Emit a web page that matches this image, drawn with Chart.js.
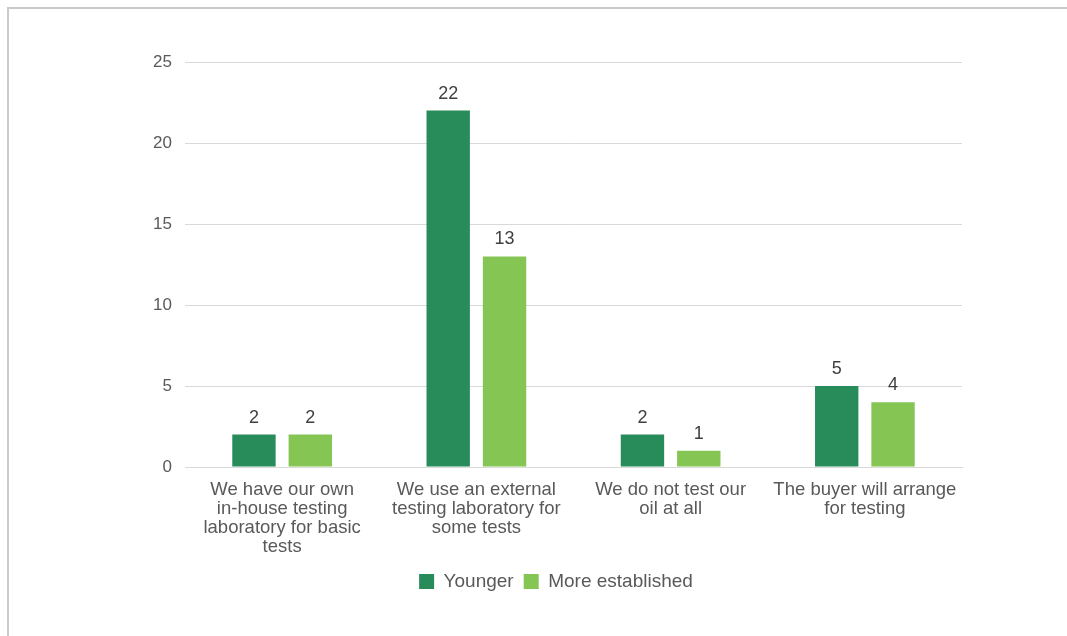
<!DOCTYPE html>
<html>
<head>
<meta charset="utf-8">
<script src="https://cdn.jsdelivr.net/npm/chart.js@4.4.0/dist/chart.umd.min.js"></script>
<style>
  html, body { margin: 0; padding: 0; background: #fff; }
  #wrap { position: relative; width: 1067px; height: 636px; }
  #frame { position: absolute; left: 7px; top: 7px; right: -10px; bottom: -10px;
           border-left: 2px solid #cacace; border-top: 2px solid #cacace; }
  canvas { position: absolute; left: 0; top: 0; }
</style>
</head>
<body>
<div id="wrap">
  <div id="frame"></div>
  <canvas id="barChart" width="1067" height="636"></canvas>
</div>
<script>
const categories = [
    ['We have our own', 'in-house testing', 'laboratory for basic', 'tests'],
    ['We use an external', 'testing laboratory for', 'some tests'],
    ['We do not test our', 'oil at all'],
    ['The buyer will arrange', 'for testing']
];
const younger = [2, 22, 2, 5];
const established = [2, 13, 1, 4];
const yTicks = [0, 5, 10, 15, 20, 25];

// value labels above each bar
const barLabels = {
    id: 'barLabels',
    afterDatasetsDraw(chart) {
        const ctx = chart.ctx;
        ctx.save();
        ctx.font = '18px "Liberation Sans", Arial, sans-serif';
        ctx.fillStyle = '#404040';
        ctx.textAlign = 'center';
        ctx.textBaseline = 'bottom';
        chart.data.datasets.forEach((ds, i) => {
            chart.getDatasetMeta(i).data.forEach((bar, j) => {
                ctx.fillText(String(ds.data[j]), bar.x, bar.y - 8);
            });
        });
        ctx.restore();
    }
};

window.addEventListener('DOMContentLoaded', () => {
    const ctx = document.getElementById('barChart').getContext('2d');
    Chart.defaults.font.family = '"Liberation Sans", Arial, sans-serif';
    Chart.defaults.color = '#595959';

    new Chart(ctx, {
        type: 'bar',
        data: {
            labels: categories,
            datasets: [{
                label: 'Younger',
                data: younger,
                backgroundColor: '#288c5a'
            }, {
                label: 'More established',
                data: established,
                backgroundColor: '#84c554'
            }]
        },
        options: {
            responsive: false,
            animation: false,
            categoryPercentage: 0.58,
            barPercentage: 0.77,
            layout: { padding: { top: 62, right: 105, bottom: 35, left: 150 } },
            scales: {
                x: {
                    grid: { display: false },
                    border: { color: '#d9d9d9', width: 1 },
                    ticks: { font: { size: 18.5, lineHeight: 1.03 }, color: '#595959', maxRotation: 0, padding: 5 },
                    afterFit(scale) { scale.height = 95; }
                },
                y: {
                    min: 0,
                    max: 25,
                    afterBuildTicks(scale) { scale.ticks = yTicks.map(v => ({ value: v })); },
                    grid: { color: '#d9d9d9', drawTicks: false },
                    border: { display: false },
                    ticks: { font: { size: 17 }, color: '#595959', padding: 13 },
                    afterFit(scale) { scale.width = 35; }
                }
            },
            plugins: {
                legend: {
                    position: 'bottom',
                    labels: {
                        boxWidth: 15,
                        boxHeight: 15,
                        font: { size: 19 },
                        color: '#595959',
                        padding: 10
                    }
                },
                tooltip: { enabled: false }
            }
        },
        plugins: [barLabels]
    });
});
</script>
</body>
</html>
